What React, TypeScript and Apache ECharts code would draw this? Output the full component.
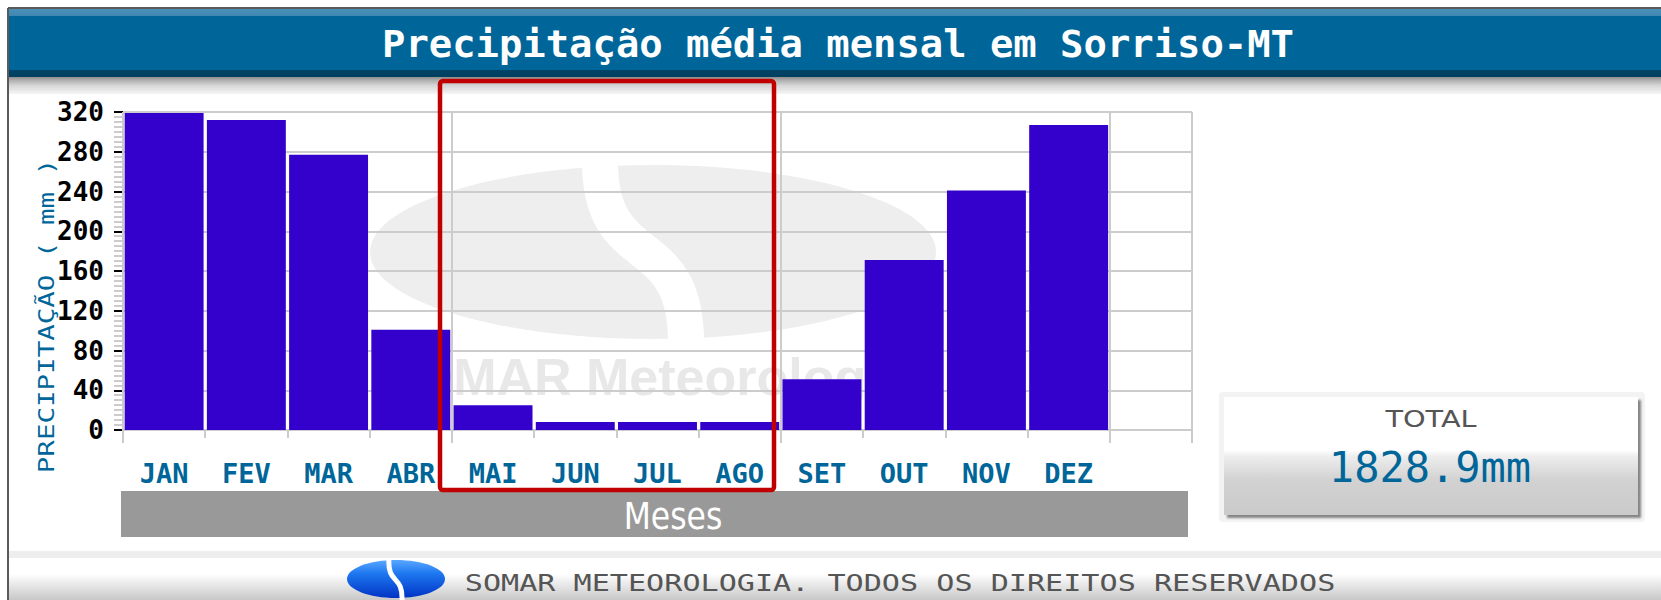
import React, { useEffect, useRef } from "react";
import * as echarts from "echarts";

const months = ["JAN", "FEV", "MAR", "ABR", "MAI", "JUN", "JUL", "AGO", "SET", "OUT", "NOV", "DEZ", ""];
const precipitation = [319, 312, 277, 101, 25, 8, 8, 8, 51, 171, 241, 307];
const yMin = 0;
const yMax = 320;
const yStep = 40;
const title = "Precipitação média mensal em Sorriso-MT";
const yName = "PRECIPITAÇÃO ( mm )";
const xName = "Meses";
const totalLabel = "TOTAL";
const totalValue = "1828.9mm";
const footer = "SOMAR METEOROLOGIA. TODOS OS DIREITOS RESERVADOS";
const watermark = "SOMAR Meteorologia";

const MONO = '"DejaVu Sans Mono", monospace';
const SANS = '"DejaVu Sans", sans-serif';
const BLUE = "#006699";

export default function App() {
  const ref = useRef<HTMLDivElement>(null);
  useEffect(() => {
    if (!ref.current) return;
    const chart = echarts.init(ref.current, null, { renderer: "svg" });
    const lg = (stops: [number, string][]) =>
      new echarts.graphic.LinearGradient(0, 0, 0, 1, stops.map(([offset, color]) => ({ offset, color })));

    const graphic: any[] = [
      // frame
      { type: "rect", z: -20, shape: { x: 0, y: 0, width: 1661, height: 600 }, style: { fill: "#ffffff" } },
      { type: "line", z: 50, shape: { x1: 8, y1: 8, x2: 1661, y2: 8 }, style: { stroke: "#5a5a5a", lineWidth: 2 } },
      { type: "line", z: 50, shape: { x1: 8, y1: 8, x2: 8, y2: 600 }, style: { stroke: "#5a5a5a", lineWidth: 2 } },
      // title band
      {
        type: "rect", z: 10,
        shape: { x: 9, y: 9, width: 1652, height: 68 },
        style: {
          fill: lg([[0, "#4a90b8"], [0.1, "#3f88b3"], [0.11, "#006699"], [0.89, "#006699"], [0.9, "#004466"], [1, "#003f5f"]]),
        },
      },
      {
        type: "rect", z: 10,
        shape: { x: 9, y: 77, width: 1652, height: 17 },
        style: { fill: lg([[0, "#8e8e8e"], [0.2, "#b0b0b0"], [0.5, "#d6d6d6"], [1, "#f6f6f6"]]) },
      },
      {
        type: "text", z: 20, x: 838, y: 44, scaleX: 1.05,
        style: { text: title, fill: "#ffffff", fontFamily: MONO, fontWeight: "bold", fontSize: 37, align: "center", verticalAlign: "middle" },
      },
      // watermark
      { type: "ellipse", z: -10, shape: { cx: 653, cy: 252, rx: 283, ry: 87 }, style: { fill: "#eeeeee" } },
      {
        type: "bezierCurve", z: -9,
        shape: { x1: 600, y1: 158, cpx1: 598, cpy1: 275, cpx2: 688, cpy2: 225, x2: 686, y2: 346 },
        style: { stroke: "#ffffff", lineWidth: 36, fill: null },
      },
      {
        type: "text", z: -8, x: 378, y: 377,
        style: { text: watermark, fill: "#e8e8e8", fontFamily: '"Liberation Sans", Arial, sans-serif', fontWeight: "bold", fontSize: 52, align: "left", verticalAlign: "middle" },
      },
      // y axis name
      {
        type: "text", z: 20, x: 46, y: 316, rotation: Math.PI / 2, scaleX: 1.25,
        style: { text: yName, fill: BLUE, fontFamily: MONO, fontSize: 22, align: "center", verticalAlign: "middle" },
      },
      // Meses band
      { type: "rect", z: 10, shape: { x: 121, y: 491, width: 1067, height: 46 }, style: { fill: "#999999" } },
      {
        type: "text", z: 20, x: 673, y: 516, scaleX: 0.85,
        style: { text: xName, fill: "#ffffff", fontFamily: SANS, fontSize: 37, align: "center", verticalAlign: "middle" },
      },
      // total box
      { type: "rect", z: 9, shape: { x: 1219, y: 392, width: 426, height: 130, r: 4 }, style: { fill: "#f3f3f3" } },
      {
        type: "rect", z: 10,
        shape: { x: 1224, y: 397, width: 414, height: 118 },
        style: {
          fill: lg([[0, "#ffffff"], [0.45, "#ffffff"], [0.5, "#eeeeee"], [0.7, "#d2d2d2"], [1, "#cacaca"]]),
          shadowColor: "rgba(0,0,0,0.45)", shadowOffsetX: 3, shadowOffsetY: 3, shadowBlur: 2,
        },
      },
      {
        type: "text", z: 20, x: 1431, y: 419, scaleX: 1.25,
        style: { text: totalLabel, fill: "#555555", fontFamily: SANS, fontSize: 23, align: "center", verticalAlign: "middle" },
      },
      {
        type: "text", z: 20, x: 1430, y: 467,
        style: { text: totalValue, fill: BLUE, fontFamily: MONO, fontSize: 42, align: "center", verticalAlign: "middle" },
      },
      // footer
      { type: "rect", z: 5, shape: { x: 9, y: 551, width: 1652, height: 7 }, style: { fill: "#eeeeee" } },
      {
        type: "rect", z: 5, shape: { x: 9, y: 574, width: 1652, height: 26 },
        style: { fill: lg([[0, "#ffffff"], [0.3, "#eeeeee"], [1, "#c8c8c8"]]) },
      },
      {
        type: "ellipse", z: 20, shape: { cx: 396, cy: 579, rx: 49, ry: 19 },
        style: { fill: lg([[0, "#5aa8ff"], [0.35, "#1e78f0"], [1, "#0033c4"]]) },
      },
      {
        type: "bezierCurve", z: 21,
        shape: { x1: 389, y1: 558, cpx1: 387, cpy1: 585, cpx2: 403, cpy2: 574, x2: 402, y2: 600 },
        style: { stroke: "#ffffff", lineWidth: 5, fill: null },
      },
      {
        type: "text", z: 20, x: 900, y: 583, scaleX: 1.31,
        style: { text: footer, fill: "#555555", fontFamily: MONO, fontSize: 23, align: "center", verticalAlign: "middle" },
      },
      // red highlight box
      {
        type: "rect", z: 100,
        shape: { x: 440, y: 81, width: 334, height: 409, r: 3 },
        style: { stroke: "#c00000", lineWidth: 4.5, fill: null },
      },
    ];

    chart.setOption({
      animation: false,
      backgroundColor: "transparent",
      grid: { left: 123, right: 469, top: 112, bottom: 170, containLabel: false },
      xAxis: [
        {
          type: "category",
          data: months,
          boundaryGap: true,
          axisLine: { show: true, lineStyle: { color: "#cccccc", width: 2 } },
          axisTick: { show: true, interval: 0, length: 8, lineStyle: { color: "#cccccc", width: 2 } },
          axisLabel: { interval: 0, color: BLUE, fontFamily: MONO, fontWeight: "bold", fontSize: 27, margin: 30 },
          splitLine: { show: true, interval: 3, lineStyle: { color: "#cccccc", width: 2 } },
          z: 1,
        },
        {
          type: "category",
          data: months,
          position: "bottom",
          boundaryGap: true,
          axisLine: { show: false },
          axisTick: { show: true, interval: 3, length: 13, lineStyle: { color: "#cccccc", width: 2 } },
          axisLabel: { show: false },
          splitLine: { show: false },
        },
      ],
      yAxis: {
        type: "value",
        min: yMin,
        max: yMax,
        interval: yStep,
        axisLine: { show: true, lineStyle: { color: "#cccccc", width: 2 } },
        axisTick: { show: true, length: 9, lineStyle: { color: "#000000", width: 2 } },
        minorTick: { show: true, splitNumber: 8, length: 9, lineStyle: { color: "#cccccc", width: 2 } },
        axisLabel: { color: "#000000", fontFamily: MONO, fontWeight: "bold", fontSize: 26, margin: 19 },
        splitLine: { show: true, lineStyle: { color: "#cccccc", width: 2 } },
      },
      series: [
        {
          type: "bar",
          xAxisIndex: 0,
          data: precipitation,
          barCategoryGap: "4%",
          itemStyle: { color: "#3300cc" },
          z: 2,
        },
      ],
      graphic: { elements: graphic },
    });
    return () => chart.dispose();
  }, []);
  return <div ref={ref} style={{ position: "absolute", left: 0, top: 0, width: 1661, height: 600 }} />;
}
